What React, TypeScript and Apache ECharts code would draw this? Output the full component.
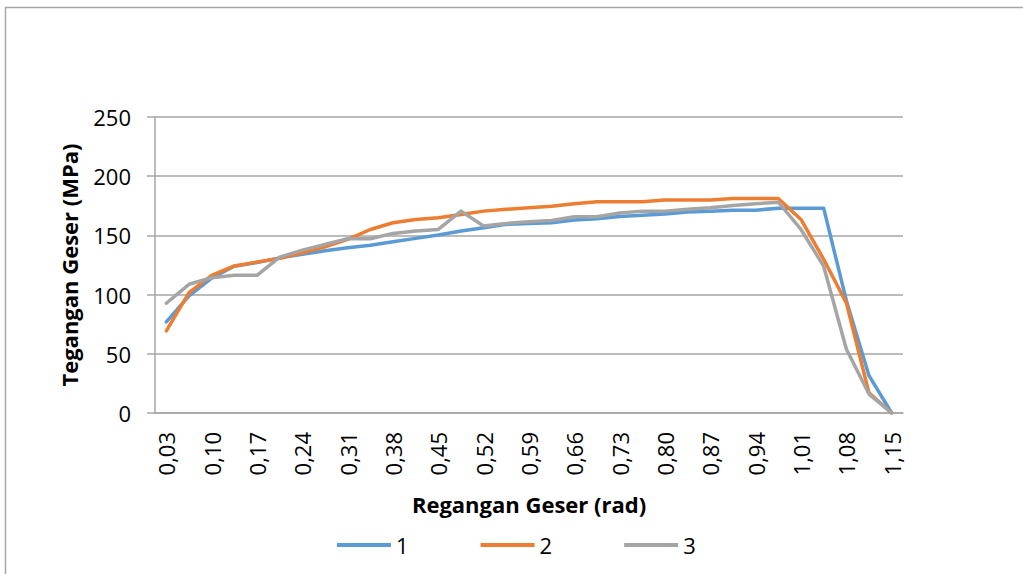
import React, { useEffect, useRef } from "react";
import * as echarts from "echarts";

const categories = [
  "0,03", "0,07", "0,10", "0,14", "0,17", "0,21", "0,24", "0,28", "0,31", "0,35",
  "0,38", "0,42", "0,45", "0,49", "0,52", "0,56", "0,59", "0,63", "0,66", "0,70",
  "0,73", "0,77", "0,80", "0,84", "0,87", "0,91", "0,94", "0,98", "1,01", "1,05",
  "1,08", "1,12", "1,15",
];

const series1 = [
  77, 99, 114, 124, 127, 131, 134, 137, 139.6, 141.6,
  144.7, 147.5, 150.3, 153.7, 156.5, 159.3, 160, 160.7, 163, 164,
  166, 167, 168, 169.7, 170.5, 171.3, 171.3, 173, 173, 173,
  95, 31.5, 0,
];

const series2 = [
  69.4, 101.7, 116.3, 124.2, 127.5, 130.6, 135.4, 140.4, 146.6, 155,
  160.7, 163.5, 164.9, 167.7, 170.5, 172, 173.3, 174.7, 176.7, 178.4,
  178.4, 178.4, 179.8, 179.8, 179.8, 181.2, 181.2, 181.2, 163.5, 129.8,
  93, 17, 0,
];

const series3 = [
  92.7, 108.7, 114.3, 116.3, 116.3, 131.7, 137.6, 142.4, 147.2, 147.2,
  151.7, 153.7, 155, 170.5, 157.9, 160.1, 161.5, 162.6, 165.7, 165.7,
  169, 170.5, 170.5, 172, 173.3, 175.3, 176.7, 178, 155, 124,
  54, 16, 0,
];

const seriesNames = ["1", "2", "3"];
const colors = ["#5B9BD5", "#ED7D31", "#A5A5A5"];

const FONT = "'Open Sans', 'Noto Sans', sans-serif";

export default function App() {
  const ref = useRef<HTMLDivElement>(null);

  useEffect(() => {
    if (!ref.current) return;
    const chart = echarts.init(ref.current, null, { renderer: "svg" });
    const data = [series1, series2, series3];
    chart.setOption({
      animation: false,
      backgroundColor: "#ffffff",
      textStyle: { fontFamily: FONT },
      graphic: [
        {
          type: "rect",
          shape: { x: 5.5, y: 7.5, width: 1030, height: 600 },
          style: { fill: "none", stroke: "#A6A6A6", lineWidth: 1.5 },
          silent: true,
        },
      ],
      grid: { left: 155, right: 120, top: 117, bottom: 161, containLabel: false },
      legend: {
        left: 332,
        top: 529,
        icon: "rect",
        itemWidth: 54,
        itemHeight: 4,
        itemGap: 72,
        textStyle: { fontSize: 22, color: "#000", fontFamily: FONT },
        data: seriesNames,
      },
      xAxis: {
        type: "category",
        data: categories,
        boundaryGap: true,
        name: "Regangan Geser (rad)",
        nameLocation: "middle",
        nameGap: 80,
        nameTextStyle: { fontSize: 22, fontWeight: "bold", color: "#000", fontFamily: FONT },
        axisLine: { show: true, lineStyle: { color: "#A6A6A6", width: 1.5 } },
        axisTick: { show: false },
        axisLabel: {
          interval: 1,
          rotate: 90,
          margin: 19,
          fontSize: 22,
          color: "#000",
          fontFamily: FONT,
        },
        splitLine: { show: false },
      },
      yAxis: {
        type: "value",
        min: 0,
        max: 250,
        interval: 50,
        name: "Tegangan Geser (MPa)",
        nameLocation: "middle",
        nameGap: 75,
        nameRotate: 90,
        nameTextStyle: { fontSize: 22, fontWeight: "bold", color: "#000", fontFamily: FONT },
        axisLine: { show: true, lineStyle: { color: "#A6A6A6", width: 1.5 } },
        axisTick: { show: true, inside: false, length: 8, lineStyle: { color: "#A6A6A6", width: 1.5 } },
        axisLabel: { margin: 24, fontSize: 22, color: "#000", fontFamily: FONT },
        splitLine: { show: true, lineStyle: { color: "#A6A6A6", width: 1.5 } },
      },
      series: seriesNames.map((name, i) => ({
        name,
        type: "line",
        data: data[i],
        symbol: "none",
        color: colors[i],
        lineStyle: { color: colors[i], width: 3.5, cap: "round", join: "round" },
        z: 2 + i,
      })),
    });
    return () => chart.dispose();
  }, []);

  return (
    <div
      ref={ref}
      style={{ position: "fixed", left: 0, top: 0, width: 1023, height: 574 }}
    />
  );
}
